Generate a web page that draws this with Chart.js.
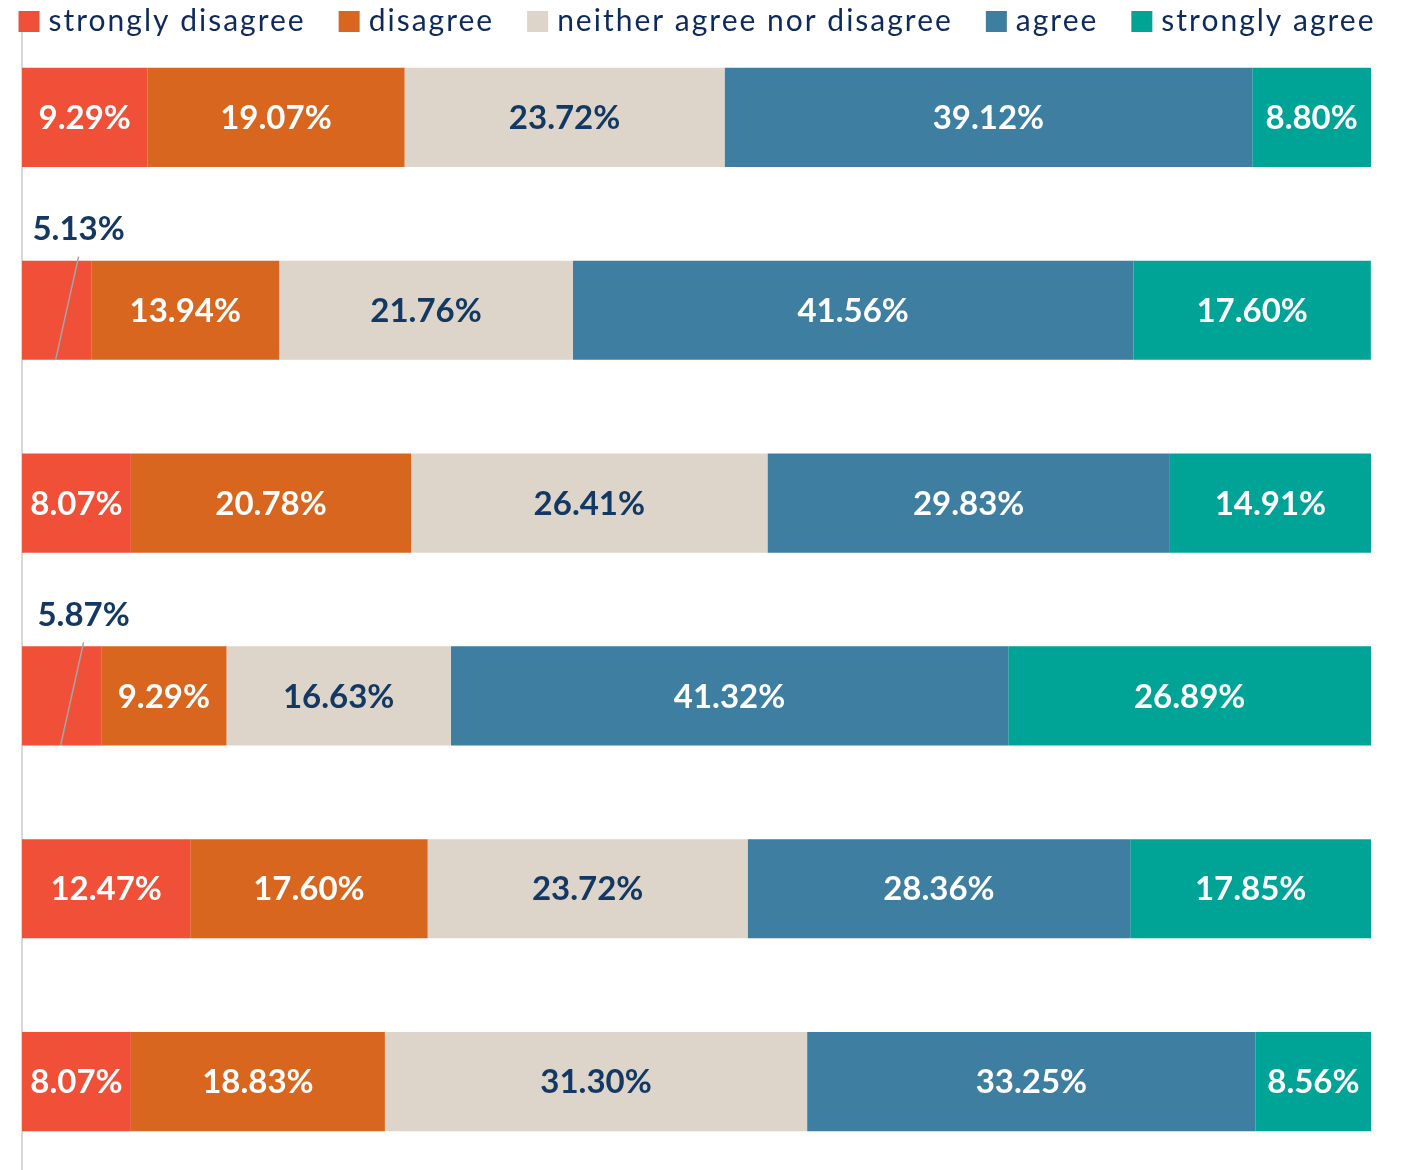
<!DOCTYPE html>
<html>
<head>
<meta charset="utf-8">
<script src="https://cdn.jsdelivr.net/npm/chart.js@4.4.1/dist/chart.umd.min.js"></script>
<style>
  html, body { margin: 0; padding: 0; background: #fff; overflow: hidden; }
  #wrap { position: relative; width: 1408px; height: 1178px; }
</style>
</head>
<body>
<div id="wrap"><canvas id="chart"></canvas></div>
<script>
// Statements (category labels are not shown on the chart)
var statements = ['Statement 1', 'Statement 2', 'Statement 3', 'Statement 4', 'Statement 5', 'Statement 6'];

// Share of answers per statement, in percent
var stronglyDisagree = [9.29, 5.13, 8.07, 5.87, 12.47, 8.07];
var disagree = [19.07, 13.94, 20.78, 9.29, 17.60, 18.83];
var neither = [23.72, 21.76, 26.41, 16.63, 23.72, 31.30];
var agree = [39.12, 41.56, 29.83, 41.32, 28.36, 33.25];
var stronglyAgree = [8.80, 17.60, 14.91, 26.89, 17.85, 8.56];

var seriesNames = ['strongly disagree', 'disagree', 'neither agree nor disagree', 'agree', 'strongly agree'];
var seriesColors = ['#EF5037', '#D8661E', '#DDD5C9', '#3D7EA1', '#00A496'];
var labelColors = ['#ffffff', '#ffffff', '#133863', '#ffffff', '#ffffff'];

var navy = '#133863';

// draws the value in each segment, small ones go above with a leader line
var valueLabels = {
  id: 'valueLabels',
  afterDatasetsDraw: function(chart) {
    var ctx = chart.ctx;
    ctx.save();
    ctx.font = 'bold 33px Lato';
    ctx.textAlign = 'center';
    ctx.textBaseline = 'middle';
    chart.data.datasets.forEach(function(ds, i) {
      var meta = chart.getDatasetMeta(i);
      meta.data.forEach(function(bar, j) {
        var p = bar.getProps(['x', 'y', 'base', 'height'], true);
        var text = ds.data[j].toFixed(2) + '%';
        var w = ctx.measureText(text).width;
        var cx = (p.x + p.base) / 2;
        var segW = Math.abs(p.x - p.base);
        if (w + 8 <= segW) {
          ctx.fillStyle = ds.labelColor;
          ctx.fillText(text, cx, p.y + 1);
        } else {
          var top = p.y - p.height / 2;
          var lx = cx + 22;
          ctx.strokeStyle = '#a5a5a5';
          ctx.lineWidth = 1.5;
          ctx.beginPath();
          ctx.moveTo(lx, top - 4);
          ctx.lineTo(cx - 1, top + p.height);
          ctx.stroke();
          ctx.fillStyle = navy;
          ctx.fillText(text, lx, top - 31);
        }
      });
    });
    ctx.restore();
  }
};

// legend row across the top, overlapping the top of the axis line
var topLegend = {
  id: 'topLegend',
  afterDraw: function(chart) {
    var ctx = chart.ctx;
    ctx.save();
    ctx.font = '30px Lato';
    ctx.letterSpacing = '2px';
    ctx.textBaseline = 'alphabetic';
    ctx.textAlign = 'left';
    var box = 21, gap = 9, itemGap = 33;
    var widths = chart.data.datasets.map(function(ds) { return ctx.measureText(ds.label).width; });
    var total = 0;
    widths.forEach(function(w) { total += box + gap + w; });
    total += itemGap * (widths.length - 1);
    var x = 697 - total / 2;
    chart.data.datasets.forEach(function(ds, i) {
      ctx.fillStyle = ds.backgroundColor;
      ctx.fillRect(x, 11, box, box);
      ctx.fillStyle = '#0e2a5c';
      ctx.fillText(ds.label, x + box + gap, 31);
      x += box + gap + widths[i] + itemGap;
    });
    ctx.restore();
  }
};

var seriesData = [stronglyDisagree, disagree, neither, agree, stronglyAgree];
var datasets = seriesData.map(function(values, i) {
  return {
    label: seriesNames[i],
    data: values,
    backgroundColor: seriesColors[i],
    labelColor: labelColors[i],
    borderWidth: 0,
    categoryPercentage: 1,
    barPercentage: 0.514
  };
});

new Chart(document.getElementById('chart'), {
  type: 'bar',
  data: { labels: statements, datasets: datasets },
  plugins: [valueLabels, topLegend],
  options: {
    indexAxis: 'y',
    responsive: true,
    maintainAspectRatio: false,
    animation: false,
    layout: { padding: { top: 21, left: 22, right: 37, bottom: 0 } },
    plugins: {
      legend: { display: false },
      tooltip: { enabled: false }
    },
    scales: {
      x: {
        stacked: true,
        min: 0,
        max: 100,
        display: false
      },
      y: {
        stacked: true,
        grid: { display: false, drawTicks: false },
        ticks: { display: false },
        border: { display: true, color: '#d9d9d9', width: 2 }
      }
    }
  }
});
</script>
</body>
</html>
